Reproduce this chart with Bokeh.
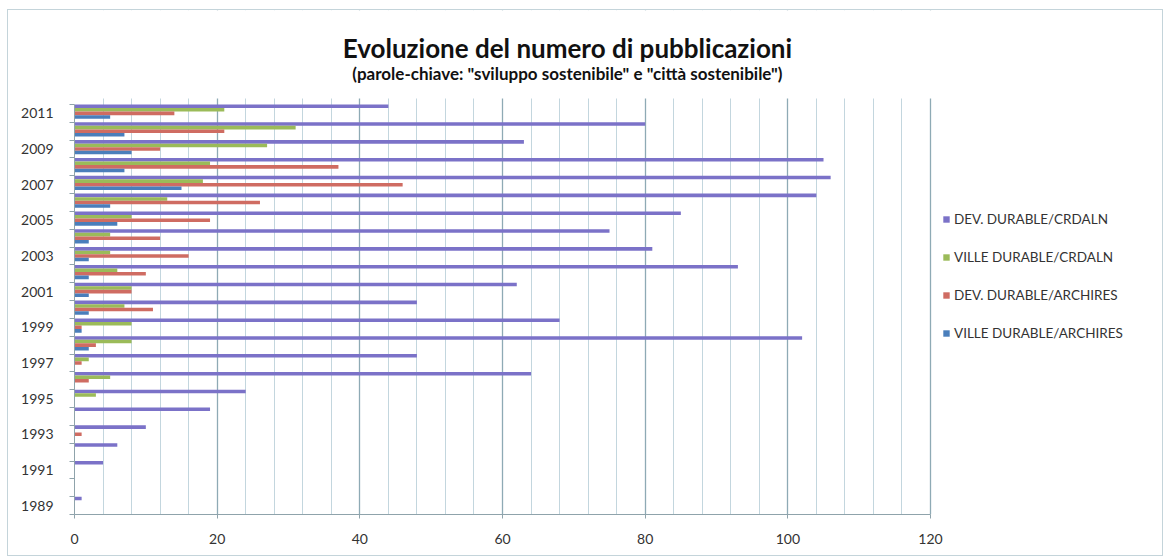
from bokeh.plotting import figure
from bokeh.models import ColumnDataSource, FixedTicker, Range1d, Label, Legend, LegendItem, BoxAnnotation
from bokeh.transform import dodge
from bokeh.embed import file_html
from bokeh.resources import INLINE

years = list(range(1989, 2012))
# values listed from 1989 to 2011
dev_crdaln = [1, 0, 4, 6, 10, 19, 24, 64, 48, 102, 68, 48, 62, 93, 81, 75, 85, 104, 106, 105, 63, 80, 44]
ville_crdaln = [0, 0, 0, 0, 0, 0, 3, 5, 2, 8, 8, 7, 8, 6, 5, 5, 8, 13, 18, 19, 27, 31, 21]
dev_archires = [0, 0, 0, 0, 1, 0, 0, 2, 1, 3, 1, 11, 8, 10, 16, 12, 19, 26, 46, 37, 12, 21, 14]
ville_archires = [0, 0, 0, 0, 0, 0, 0, 0, 0, 2, 1, 2, 2, 2, 2, 2, 6, 5, 15, 7, 8, 7, 5]

series_names = ["DEV. DURABLE/CRDALN", "VILLE DURABLE/CRDALN", "DEV. DURABLE/ARCHIRES", "VILLE DURABLE/ARCHIRES"]
x_ticks = [0, 20, 40, 60, 80, 100, 120]
y_label_years = list(range(1989, 2012, 2))

title_text = "Evoluzione del numero di pubblicazioni"
subtitle_text = '(parole-chiave: "sviluppo sostenibile" e "città sostenibile")'

colors = ["#7b72c8", "#9bbb59", "#cf6c62", "#4a7ebb"]
offsets = [0.40, 0.20, 0.00, -0.20]

src = ColumnDataSource(dict(year=years, s0=dev_crdaln, s1=ville_crdaln, s2=dev_archires, s3=ville_archires))

FONT = "Lato"
AXIS_COL = "#8fa3ab"

p = figure(width=1156, height=547, output_backend="svg", toolbar_location=None,
           x_range=Range1d(0, 152.8), y_range=Range1d(1988.5, 2016.77),
           min_border_left=66, min_border_right=0, min_border_top=0, min_border_bottom=43,
           margin=(9, 0, 0, 7))
p.styles = {"border": "1px solid #c4d4da", "box-sizing": "border-box"}
p.outline_line_color = None
p.background_fill_color = "white"
p.border_fill_color = "white"

renderers = []
for i, key in enumerate(["s0", "s1", "s2", "s3"]):
    r = p.hbar(y=dodge("year", offsets[i]), right=key, left=0, height=0.2, source=src,
               fill_color=colors[i], line_color=None)
    renderers.append(r)

minor_x = list(range(0, 121, 4))
# x axis
p.xaxis.ticker = FixedTicker(ticks=x_ticks, minor_ticks=minor_x)
p.xaxis.bounds = (0, 120)
p.xaxis.axis_line_color = AXIS_COL
p.xaxis.major_tick_line_color = AXIS_COL
p.xaxis.major_tick_out = 4
p.xaxis.major_tick_in = 0
p.xaxis.minor_tick_line_color = None
p.xaxis.major_label_text_font = FONT
p.xaxis.major_label_text_font_size = "14px"
p.xaxis.major_label_text_color = "#333333"
p.xaxis.major_label_standoff = 15

p.xgrid.ticker = FixedTicker(ticks=x_ticks, minor_ticks=minor_x)
p.xgrid.grid_line_color = "#8eaab5"
p.xgrid.grid_line_width = 1.3
p.xgrid.minor_grid_line_color = "#c3d6de"
p.xgrid.minor_grid_line_width = 1
p.ygrid.grid_line_color = None

# mask gridlines above the plot area
p.add_layout(BoxAnnotation(bottom=2011.84, fill_color="white", fill_alpha=1, line_color=None, level="underlay"))

# y axis
p.yaxis.ticker = FixedTicker(ticks=y_label_years, minor_ticks=[y + 0.5 for y in range(1988, 2012)])
p.yaxis.bounds = (1988.5, 2011.5)
p.yaxis.axis_line_color = AXIS_COL
p.yaxis.major_tick_line_color = None
p.yaxis.minor_tick_line_color = AXIS_COL
p.yaxis.minor_tick_out = 5
p.yaxis.minor_tick_in = 0
p.yaxis.major_label_text_font = FONT
p.yaxis.major_label_text_font_size = "14px"
p.yaxis.major_label_text_color = "#333333"
p.yaxis.major_label_standoff = 15

# titles
p.add_layout(Label(x=69.1, y=2014.64, text=title_text, text_align="center", text_baseline="middle",
                   text_font=FONT, text_font_style="bold", text_font_size="26px", text_color="#111111"))
p.add_layout(Label(x=69.1, y=2013.24, text=subtitle_text, text_align="center", text_baseline="middle",
                   text_font=FONT, text_font_style="bold", text_font_size="17px", text_color="#111111"))

legend = Legend(items=[LegendItem(label=series_names[i], renderers=[renderers[i]]) for i in range(4)],
                location=(868, 173), orientation="vertical",
                glyph_width=8, glyph_height=8, label_height=16, spacing=22,
                padding=0, margin=0, label_standoff=4,
                label_text_font=FONT, label_text_font_size="13.5px", label_text_color="#333333",
                border_line_color=None, background_fill_alpha=0)
p.add_layout(legend, "center")

open("out.html", "w").write(file_html(p, INLINE))
